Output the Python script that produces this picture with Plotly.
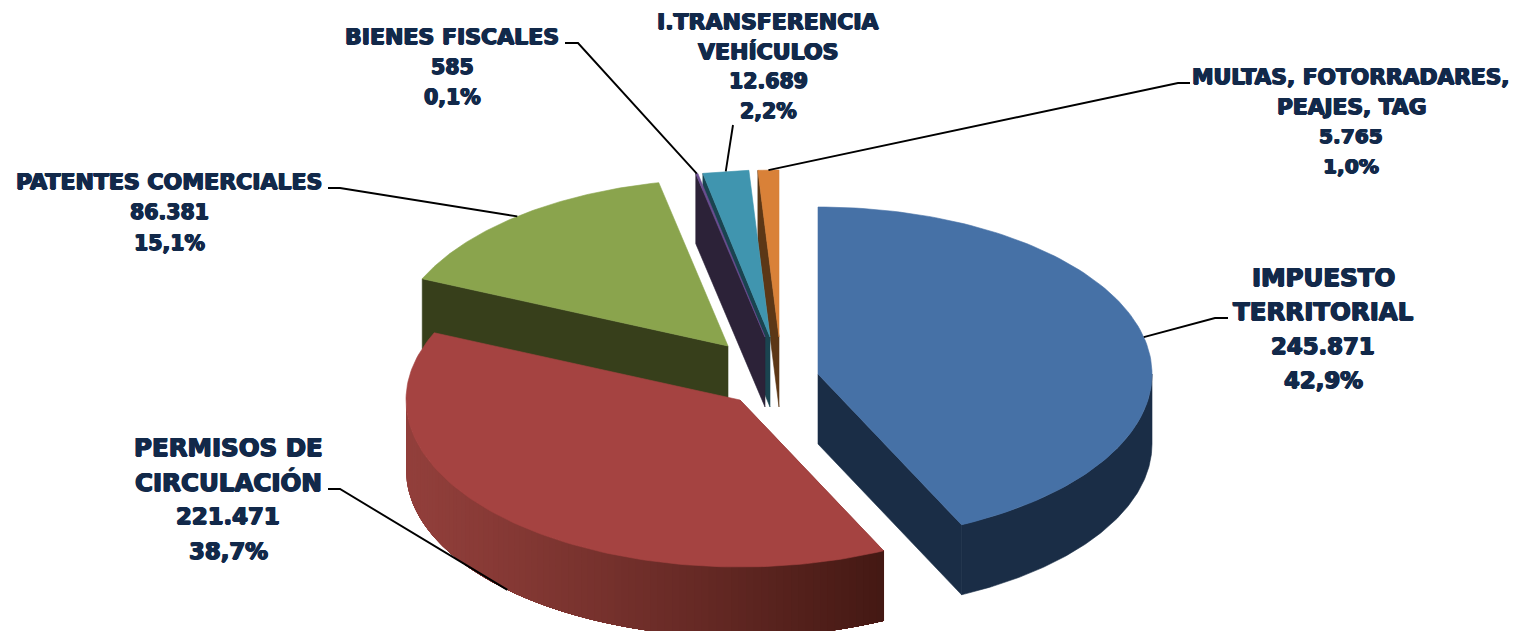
import math
import plotly.graph_objects as go

categories = ["IMPUESTO TERRITORIAL", "PERMISOS DE CIRCULACIÓN", "PATENTES COMERCIALES",
              "BIENES FISCALES", "I.TRANSFERENCIA VEHÍCULOS", "MULTAS, FOTORRADARES, PEAJES, TAG"]
values = [245871, 221471, 86381, 585, 12689, 5765]
value_labels = ["245.871", "221.471", "86.381", "585", "12.689", "5.765"]
percent_labels = ["42,9%", "38,7%", "15,1%", "0,1%", "2,2%", "1,0%"]
name_lines = [["IMPUESTO", "TERRITORIAL"], ["PERMISOS DE", "CIRCULACIÓN"], ["PATENTES COMERCIALES"],
              ["BIENES FISCALES"], ["I.TRANSFERENCIA", "VEHÍCULOS"], ["MULTAS, FOTORRADARES,", "PEAJES, TAG"]]

# styling / layout (pixel space of the axes)
RX, RY, DEPTH = 334, 167, 70
centers = [(818, 374), (740, 400), (728, 346), (765, 337), (770, 337), (779, 337)]
top_colors = ["#4671a6", "#a54341", "#8aa44d", "#6b4e91", "#4095af", "#d98138"]
side_colors = ["#1a2d46", "#8f3e3a", "#373f1b", "#2c2238", "#1a4450", "#5c3716"]
label_x = [1323, 228, 169, 452, 768, 1351]
label_y = [277, 447, 181, 36, 21, 76]
label_step = [34.3, 34.5, 31, 30.5, 30, 30]
label_size = [24.5, 24.5, 22, 22, 22, 21.7]
NUMBER_SCALE = 0.93
# leader: elbow x, elbow y, end x of the horizontal stub; None for a direct line
leaders = [(1215, 318, 1228), (340, 489, 328), (340, 188, 328), (578, 43, 565), (733, 125, None), (1178, 83, 1190)]
INK = "#12294a"

total = sum(values)
starts, ends = [], []
acc = 0.0
for v in values:
    starts.append(acc / total * 2 * math.pi)
    acc += v
    ends.append(acc / total * 2 * math.pi)


def pt(c, t, dz=0):
    return (c[0] + RX * math.sin(t), c[1] - RY * math.cos(t) + dz)


def arc(c, a, b, dz=0, n=120):
    return [pt(c, a + (b - a) * k / n, dz) for k in range(n + 1)]


def poly(fig, pts, color, lw=0.6):
    fig.add_trace(go.Scatter(x=[p[0] for p in pts] + [pts[0][0]], y=[p[1] for p in pts] + [pts[0][1]],
                             mode="lines", fill="toself", fillcolor=color,
                             line=dict(color=color, width=lw), hoverinfo="skip", showlegend=False))


def lerp_hex(a, b, f):
    ca = [int(a[i:i + 2], 16) for i in (1, 3, 5)]
    cb = [int(b[i:i + 2], 16) for i in (1, 3, 5)]
    return "#%02x%02x%02x" % tuple(round(x + (y - x) * f) for x, y in zip(ca, cb))


fig = go.Figure()

# painter's order, back to front
for i in [5, 4, 3, 2, 0, 1]:
    c = centers[i]
    a, b = starts[i], ends[i]
    # radial cut face seen from the viewer
    e = pt(c, b if i == 0 else a)
    poly(fig, [c, e, (e[0], e[1] + DEPTH), (c[0], c[1] + DEPTH)], side_colors[i])
    # curved rim, front half only
    lo, hi = max(a, math.pi / 2), min(b, 3 * math.pi / 2)
    if hi > lo:
        if i == 1:  # rim shaded left to right: each narrower band painted over the last
            n = 90
            x_left = c[0] - RX
            x_right = pt(c, lo)[0]
            for k in range(n):
                t_end = hi - (hi - lo) * k / n
                f = (pt(c, t_end)[0] - x_left) / (x_right - x_left)
                col = lerp_hex("#923f3b", "#431813", max(0, min(1, f)) ** 1.15)
                poly(fig, arc(c, lo, t_end, 0, 60) + arc(c, t_end, lo, DEPTH, 60), col, 0)
        else:
            poly(fig, arc(c, lo, hi) + arc(c, hi, lo, DEPTH), side_colors[i])
    # top face
    poly(fig, [c] + arc(c, a, b), top_colors[i])

# leader lines, anchored on each slice's mid angle
for i, (ex, ey, sx) in enumerate(leaders):
    mid = (starts[i] + ends[i]) / 2
    dz = DEPTH if i == 1 else 0
    px, py = pt(centers[i], mid, dz)
    xs = [px, ex] + ([sx] if sx is not None else [])
    ys = [py, ey] + ([ey] if sx is not None else [])
    fig.add_trace(go.Scatter(x=xs, y=ys, mode="lines", line=dict(color="#000000", width=1.9),
                             hoverinfo="skip", showlegend=False))

# labels
THICK = ", ".join(f"{dx}px {dy}px 0 {INK}" for dx, dy in [(0.8, 0), (-0.8, 0), (0, 0.5), (0, -0.5)])
for i in range(len(values)):
    names = name_lines[i]
    lines = names + [value_labels[i], percent_labels[i]]
    for j, txt in enumerate(lines):
        size = label_size[i] * (1 if j < len(names) else NUMBER_SCALE)
        fig.add_annotation(x=label_x[i], y=label_y[i] + j * label_step[i], text=txt, showarrow=False,
                           xanchor="center", yanchor="middle",
                           font=dict(family="DejaVu Sans", size=size, color=INK, weight="bold", shadow=THICK))

fig.update_layout(width=1514, height=631, margin=dict(l=0, r=0, t=0, b=0), showlegend=False,
                  paper_bgcolor="white", plot_bgcolor="white",
                  xaxis=dict(range=[0, 1514], visible=False, fixedrange=True),
                  yaxis=dict(range=[631, 0], visible=False, fixedrange=True))

fig.write_html("out.html", post_script="document.body.style.margin='0';", config={"displayModeBar": False})
